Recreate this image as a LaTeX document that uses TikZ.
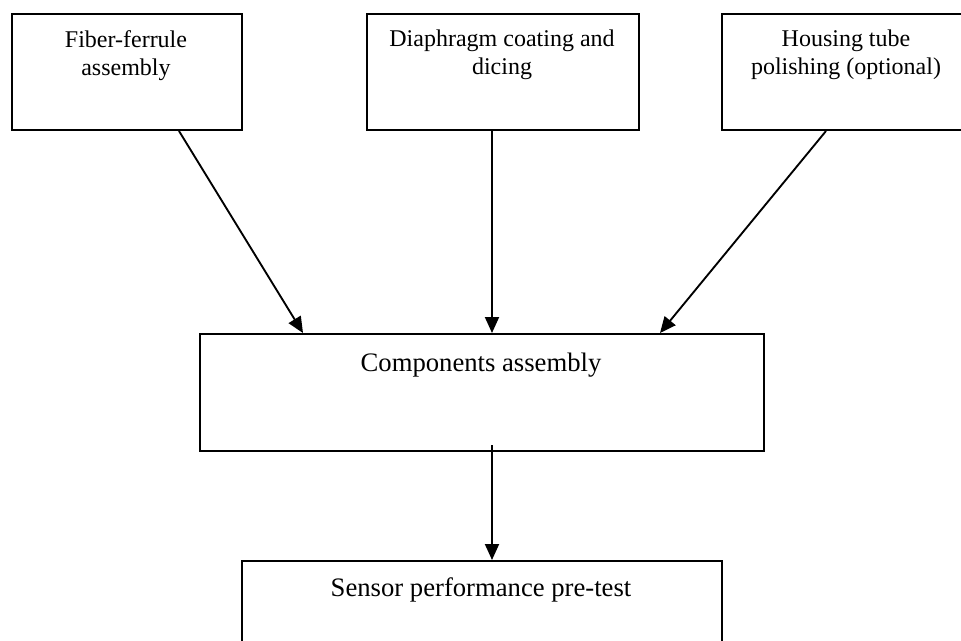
\documentclass[tikz,border=0pt]{standalone}
\usepackage{fontspec}
\setmainfont{Liberation Serif}
\usetikzlibrary{arrows.meta,calc}
\begin{document}
\begin{tikzpicture}[x=0.75pt,y=-0.75pt,
  box/.style={draw,line width=1.5pt,rectangle,inner sep=0pt,anchor=north west},
  lbl/.style={inner sep=0pt,anchor=north,align=center,font=\fontsize{18}{21}\selectfont},
  biglbl/.style={lbl,font=\fontsize{20}{24}\selectfont},
  arr/.style={line width=1.4pt,-{Triangle[length=12pt,width=10.5pt]}}]
\useasboundingbox (0,0) rectangle (961,640);
% boxes
\node[box,minimum width=172.5pt,minimum height=87pt] (b1) at (11,13) {};
\node[box,minimum width=204pt,minimum height=87pt] (b2) at (366,13) {};
\node[box,minimum width=187.5pt,minimum height=87pt] (b3) at (721,13) {};
\node[box,minimum width=423pt,minimum height=87.75pt] (comp) at (199,333) {};
\node[box,minimum width=360pt,minimum height=90pt] (sens) at (241,560) {};
% labels
\node[lbl] (t1) at (126,30) {Fiber-ferrule\\assembly};
\node[lbl] (t2) at (502,30) {Diaphragm coating and\\dicing};
\node[lbl] (t3) at (846,30) {Housing tube\\polishing (optional)};
\node[biglbl] (t4) at (481,353) {Components assembly};
\node[biglbl] (t5) at (481,577) {Sensor performance pre-test};
% connectors
\draw[arr] ([xshift=39pt]b1.south) -- ([xshift=-134.25pt]comp.north);
\draw[arr] ([xshift=-8.25pt]b2.south) -- ([xshift=7.5pt]comp.north);
\draw[arr] ([xshift=-15.75pt]b3.south) -- ([xshift=133.5pt]comp.north);
\draw[arr] ([xshift=7.5pt,yshift=5.25pt]comp.south) -- ([xshift=7.5pt]sens.north);
\end{tikzpicture}
\end{document}
